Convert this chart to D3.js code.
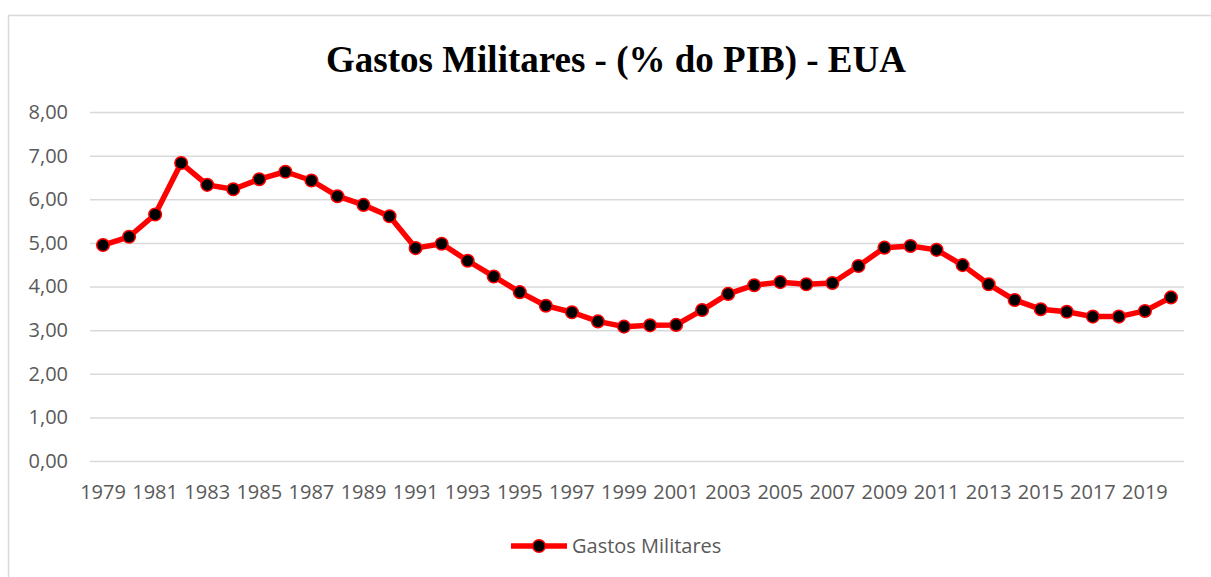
<!DOCTYPE html>
<html>
<head>
<meta charset="utf-8">
<script src="https://cdn.jsdelivr.net/npm/d3@7"></script>
<style>
  body { margin: 0; background: #fff; }
  svg { display: block; }
</style>
</head>
<body>
<svg id="chart"></svg>
<script>
// dados
const years = d3.range(1979, 2021);
const gastos = [
    4.95, 5.14, 5.65, 6.83, 6.33, 6.23, 6.46, 6.63, 6.43, 6.07,
    5.87, 5.61, 4.88, 4.98, 4.59, 4.23, 3.87, 3.56, 3.41, 3.20,
    3.08, 3.11, 3.12, 3.46, 3.83, 4.03, 4.10, 4.05, 4.08, 4.47,
    4.89, 4.93, 4.84, 4.49, 4.05, 3.69, 3.48, 3.42, 3.31, 3.31,
    3.44, 3.75
];
const yTicks = [0, 1, 2, 3, 4, 5, 6, 7, 8];
const xTickYears = years.filter((y, i) => i % 2 === 0);
const seriesName = 'Gastos Militares';
const title = 'Gastos Militares - (% do PIB) - EUA';

const width = 1211;
const height = 577;
const margin = { top: 112, right: 27, bottom: 116, left: 90 };
const labelFont = '"Open Sans", sans-serif';
const labelSize = 20;

const svg = d3.select('#chart')
    .attr('width', width)
    .attr('height', height);

// moldura do gráfico
svg.append('path')
    .attr('d', `M8.5,${height} V15.5 H${width}`)
    .attr('fill', 'none')
    .attr('stroke', '#d9d9d9')
    .attr('stroke-width', 1.5);

const x = d3.scaleBand()
    .domain(years)
    .range([margin.left, width - margin.right]);

const y = d3.scaleLinear()
    .domain([0, 8])
    .range([height - margin.bottom, margin.top]);

// título
svg.append('text')
    .attr('x', 616)
    .attr('y', 72)
    .attr('text-anchor', 'middle')
    .attr('font-family', '"Liberation Serif", "Times New Roman", serif')
    .attr('font-weight', 'bold')
    .attr('font-size', 37)
    .attr('fill', '#000')
    .text(title);

// linhas de grade + rótulos do eixo y
const yAxis = d3.axisLeft(y)
    .tickValues(yTicks)
    .tickSize(-(width - margin.left - margin.right))
    .tickPadding(22)
    .tickFormat(d => d3.format('.2f')(d).replace('.', ','));

svg.append('g')
    .attr('transform', `translate(${margin.left},0)`)
    .call(yAxis)
    .call(g => g.select('.domain').remove())
    .call(g => g.selectAll('.tick line').attr('stroke', '#d9d9d9').attr('stroke-width', 1.5))
    .call(g => g.selectAll('.tick text')
        .attr('fill', '#595959')
        .attr('font-family', labelFont)
        .attr('font-size', labelSize));

// eixo x
const xAxis = d3.axisBottom(x)
    .tickValues(xTickYears)
    .tickSize(0)
    .tickPadding(24);

svg.append('g')
    .attr('transform', `translate(0,${height - margin.bottom})`)
    .call(xAxis)
    .call(g => g.select('.domain').remove())
    .call(g => g.selectAll('.tick text')
        .attr('fill', '#595959')
        .attr('font-family', labelFont)
        .attr('font-size', labelSize));

// linha da série
const line = d3.line()
    .x((d, i) => x(years[i]) + x.bandwidth() / 2)
    .y(d => y(d));

svg.append('path')
    .datum(gastos)
    .attr('d', line)
    .attr('fill', 'none')
    .attr('stroke', '#ff0000')
    .attr('stroke-width', 5.5)
    .attr('stroke-linejoin', 'round');

svg.selectAll('circle.pt')
    .data(gastos)
    .enter()
    .append('circle')
    .attr('class', 'pt')
    .attr('cx', (d, i) => x(years[i]) + x.bandwidth() / 2)
    .attr('cy', d => y(d))
    .attr('r', 6.3)
    .attr('fill', '#000')
    .attr('stroke', '#ff0000')
    .attr('stroke-width', 1.5);

// legenda
const legend = svg.append('g').attr('transform', 'translate(511,546)');
legend.append('line')
    .attr('x1', 0).attr('x2', 56)
    .attr('y1', 0).attr('y2', 0)
    .attr('stroke', '#ff0000')
    .attr('stroke-width', 5.5);
legend.append('circle')
    .attr('cx', 28).attr('cy', 0).attr('r', 6.3)
    .attr('fill', '#000')
    .attr('stroke', '#ff0000')
    .attr('stroke-width', 1.5);
legend.append('text')
    .attr('x', 61)
    .attr('y', 0)
    .attr('dy', '0.35em')
    .attr('fill', '#595959')
    .attr('font-family', labelFont)
    .attr('font-size', labelSize)
    .text(seriesName);
</script>
</body>
</html>
